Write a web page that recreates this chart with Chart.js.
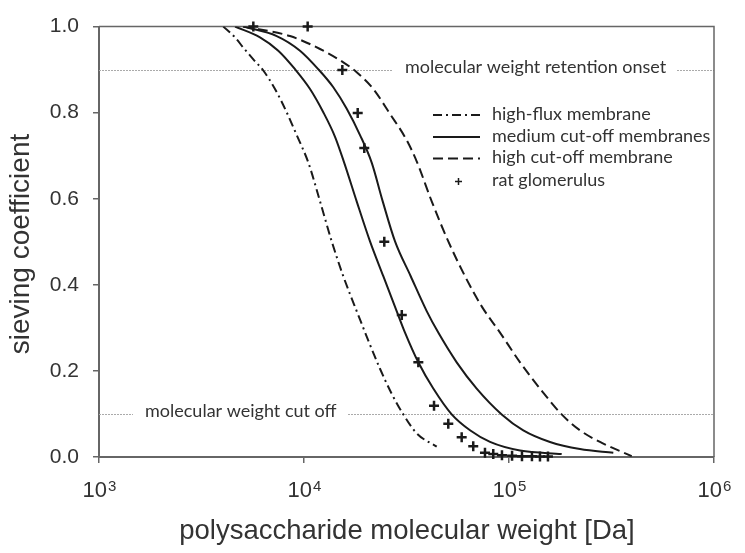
<!DOCTYPE html>
<html>
<head>
<meta charset="utf-8">
<script src="https://cdn.jsdelivr.net/npm/chart.js@4/dist/chart.umd.min.js"></script>
<style>
  body { margin: 0; background: #fff; }
  #wrap { width: 745px; height: 553px; }
</style>
</head>
<body>
<div id="wrap"><canvas id="myChart" width="745" height="553"></canvas></div>
<script>
// molecular weight [Da] and sieving coefficient
const highFluxMW = [4040, 4610, 5060, 5660, 6330, 7220, 8230, 9210, 10500, 11970, 13650,
                    15550, 18070, 23480, 26780, 30510, 35460, 44400];
const highFluxSC = [1.0, 0.975, 0.951, 0.924, 0.898, 0.855, 0.801, 0.748, 0.684, 0.594, 0.501,
                    0.420, 0.339, 0.205, 0.147, 0.099, 0.055, 0.024];

const mediumAMW = [4610, 6100, 7490, 9040, 10700, 12420, 14170, 15700, 18070, 20990, 24370,
                   28320, 31100, 36110, 42730, 52540, 64540, 80810, 113200, 180700];
const mediumASC = [1.0, 0.975, 0.944, 0.901, 0.855, 0.801, 0.744, 0.684, 0.594, 0.501, 0.420,
                   0.339, 0.289, 0.220, 0.159, 0.099, 0.062, 0.035, 0.015, 0.007];

const mediumBMW = [5060, 7360, 9560, 11740, 13900, 16160, 18760, 21390, 24210, 27800, 33160,
                   39680, 45190, 55570, 69570, 92130, 117400, 158500, 221900, 322700];
const mediumBSC = [1.0, 0.978, 0.944, 0.901, 0.859, 0.809, 0.748, 0.684, 0.594, 0.501, 0.420,
                   0.339, 0.289, 0.220, 0.159, 0.099, 0.062, 0.035, 0.0185, 0.0099];

const highCutMW = [5040, 8545, 11970, 15550, 18070, 21780, 26280, 31700, 35660, 41970, 50570,
                   61010, 73600, 90410, 113200, 141600, 180700, 221900, 277900, 396800];
const highCutSC = [1.0, 0.978, 0.948, 0.917, 0.894, 0.855, 0.797, 0.736, 0.684, 0.594, 0.501,
                   0.420, 0.350, 0.289, 0.220, 0.159, 0.099, 0.062, 0.035, 0.002];

const ratMW = [5660, 10420, 15380, 18280, 19680, 24640, 29990, 36120, 43080, 50560, 58770,
               66920, 76350, 83800, 92400, 103500, 115700, 129400, 141600, 154900];
const ratSC = [1.0, 1.0, 0.899, 0.799, 0.718, 0.5, 0.33, 0.22, 0.119, 0.077, 0.046,
               0.025, 0.01, 0.007, 0.004, 0.003, 0.002, 0.002, 0.001, 0.001];

const xTickValues = [1000, 10000, 100000, 1000000];
const xTickExponents = ["3", "4", "5", "6"];
const refLines = [
  { value: 0.9, text: "molecular weight retention onset", textX: 405, gapL: 392, gapR: 677 },
  { value: 0.1, text: "molecular weight cut off", textX: 145, gapL: 133, gapR: 348 }
];
const legendLabels = ["high-flux membrane", "medium cut-off membranes", "high cut-off membrane", "rat glomerulus"];

function pts(xs, ys) {
  return xs.map((x, i) => ({ x: x, y: ys[i] }));
}

const INK = "#1a1a1a";
const TEXT = "#333";
const noteFont = "18px Lato, 'Open Sans', sans-serif";
const axisFamily = "'Liberation Sans', Arial, sans-serif";

const lineBase = {
  type: "line",
  showLine: true,
  pointRadius: 0,
  borderColor: INK,
  borderWidth: 2,
  fill: false,
  cubicInterpolationMode: "monotone"
};

// reference lines, annotations, frame, legend and superscript tick labels
const decorPlugin = {
  id: "decor",
  beforeDatasetsDraw(chart) {
    const ctx = chart.ctx;
    const a = chart.chartArea;
    const y = chart.scales.y;
    ctx.save();
    ctx.font = noteFont;
    ctx.textBaseline = "middle";
    refLines.forEach(r => {
      const py = Math.round(y.getPixelForValue(r.value)) + 0.5;
      ctx.strokeStyle = "#aaa";
      ctx.lineWidth = 1;
      ctx.setLineDash([2, 1]);
      ctx.beginPath();
      ctx.moveTo(a.left, py); ctx.lineTo(r.gapL, py);
      ctx.moveTo(r.gapR, py); ctx.lineTo(a.right, py);
      ctx.stroke();
      ctx.setLineDash([]);
      ctx.fillStyle = TEXT;
      ctx.textAlign = "left";
      ctx.fillText(r.text, r.textX, py - 3);
    });
    // frame top and right
    ctx.strokeStyle = "#666";
    ctx.lineWidth = 1.5;
    ctx.beginPath();
    ctx.moveTo(a.left, a.top); ctx.lineTo(a.right, a.top); ctx.lineTo(a.right, a.bottom);
    ctx.stroke();
    ctx.restore();
  },
  afterDraw(chart) {
    const ctx = chart.ctx;
    const a = chart.chartArea;
    const x = chart.scales.x;
    ctx.save();
    // x tick labels 10^n
    ctx.fillStyle = TEXT;
    ctx.textBaseline = "alphabetic";
    ctx.textAlign = "left";
    xTickValues.forEach((v, i) => {
      const px = x.getPixelForValue(v);
      ctx.font = "22px " + axisFamily;
      const w1 = ctx.measureText("10").width;
      ctx.font = "15px " + axisFamily;
      const w2 = ctx.measureText(xTickExponents[i]).width;
      const sx = px - (w1 + w2) / 2;
      ctx.font = "22px " + axisFamily;
      ctx.fillText("10", sx, a.bottom + 40);
      ctx.font = "15px " + axisFamily;
      ctx.fillText(xTickExponents[i], sx + w1 + 1, a.bottom + 34);
    });
    // axis titles
    ctx.font = "27.5px " + axisFamily;
    ctx.textAlign = "center";
    ctx.textBaseline = "middle";
    ctx.fillText("polysaccharide molecular weight [Da]", 407, 531);
    ctx.font = "28px " + axisFamily;
    ctx.translate(21, 244);
    ctx.rotate(-Math.PI / 2);
    ctx.fillText("sieving coefficient", 0, 0);
    ctx.restore();

    // legend
    ctx.save();
    const rows = [115, 137, 158.5, 181.5];
    const dashes = [[9, 4, 2, 4], [], [10, 5]];
    ctx.strokeStyle = INK;
    ctx.lineWidth = 2;
    dashes.forEach((d, i) => {
      ctx.setLineDash(d);
      ctx.beginPath();
      ctx.moveTo(433, rows[i]); ctx.lineTo(480, rows[i]);
      ctx.stroke();
    });
    ctx.setLineDash([]);
    ctx.lineWidth = 1.5;
    ctx.beginPath();
    ctx.moveTo(455, rows[3]); ctx.lineTo(462, rows[3]);
    ctx.moveTo(458.5, rows[3] - 3.5); ctx.lineTo(458.5, rows[3] + 3.5);
    ctx.stroke();
    ctx.font = noteFont;
    ctx.fillStyle = TEXT;
    ctx.textAlign = "left";
    ctx.textBaseline = "middle";
    legendLabels.forEach((t, i) => ctx.fillText(t, 492, rows[i] - 1));
    ctx.restore();
  }
};

const ctx = document.querySelector("#myChart").getContext("2d");
new Chart(ctx, {
  type: "scatter",
  data: {
    datasets: [
      Object.assign({}, lineBase, { label: legendLabels[0], data: pts(highFluxMW, highFluxSC), borderDash: [9, 4, 2, 4] }),
      Object.assign({}, lineBase, { label: legendLabels[1], data: pts(mediumAMW, mediumASC) }),
      Object.assign({}, lineBase, { label: legendLabels[1], data: pts(mediumBMW, mediumBSC) }),
      Object.assign({}, lineBase, { label: legendLabels[2], data: pts(highCutMW, highCutSC), borderDash: [10, 5] }),
      {
        label: legendLabels[3],
        data: pts(ratMW, ratSC),
        showLine: false,
        pointStyle: "cross",
        pointRadius: 5,
        borderWidth: 2.5,
        borderColor: INK,
        backgroundColor: INK,
        clip: false
      }
    ]
  },
  options: {
    responsive: false,
    animation: false,
    layout: { padding: { top: 24, right: 31, left: 0, bottom: 0 } },
    plugins: { legend: { display: false }, tooltip: { enabled: false } },
    scales: {
      x: {
        type: "logarithmic",
        min: 1000,
        max: 1000000,
        afterBuildTicks: s => { s.ticks = xTickValues.map(v => ({ value: v })); },
        afterFit: s => { s.height = 96; },
        ticks: { display: false },
        grid: { drawOnChartArea: false, drawTicks: true, tickLength: 6, color: "#666", lineWidth: 1.5 },
        border: { color: "#666", width: 2 }
      },
      y: {
        min: 0,
        max: 1,
        afterFit: s => { s.width = 99; },
        ticks: {
          stepSize: 0.2,
          padding: 14,
          color: TEXT,
          font: { family: axisFamily, size: 21 },
          callback: v => v.toFixed(1)
        },
        grid: { drawOnChartArea: false, drawTicks: true, tickLength: 6, color: "#666", lineWidth: 1.5 },
        border: { color: "#666", width: 2 }
      }
    }
  },
  plugins: [decorPlugin]
});
</script>
</body>
</html>
